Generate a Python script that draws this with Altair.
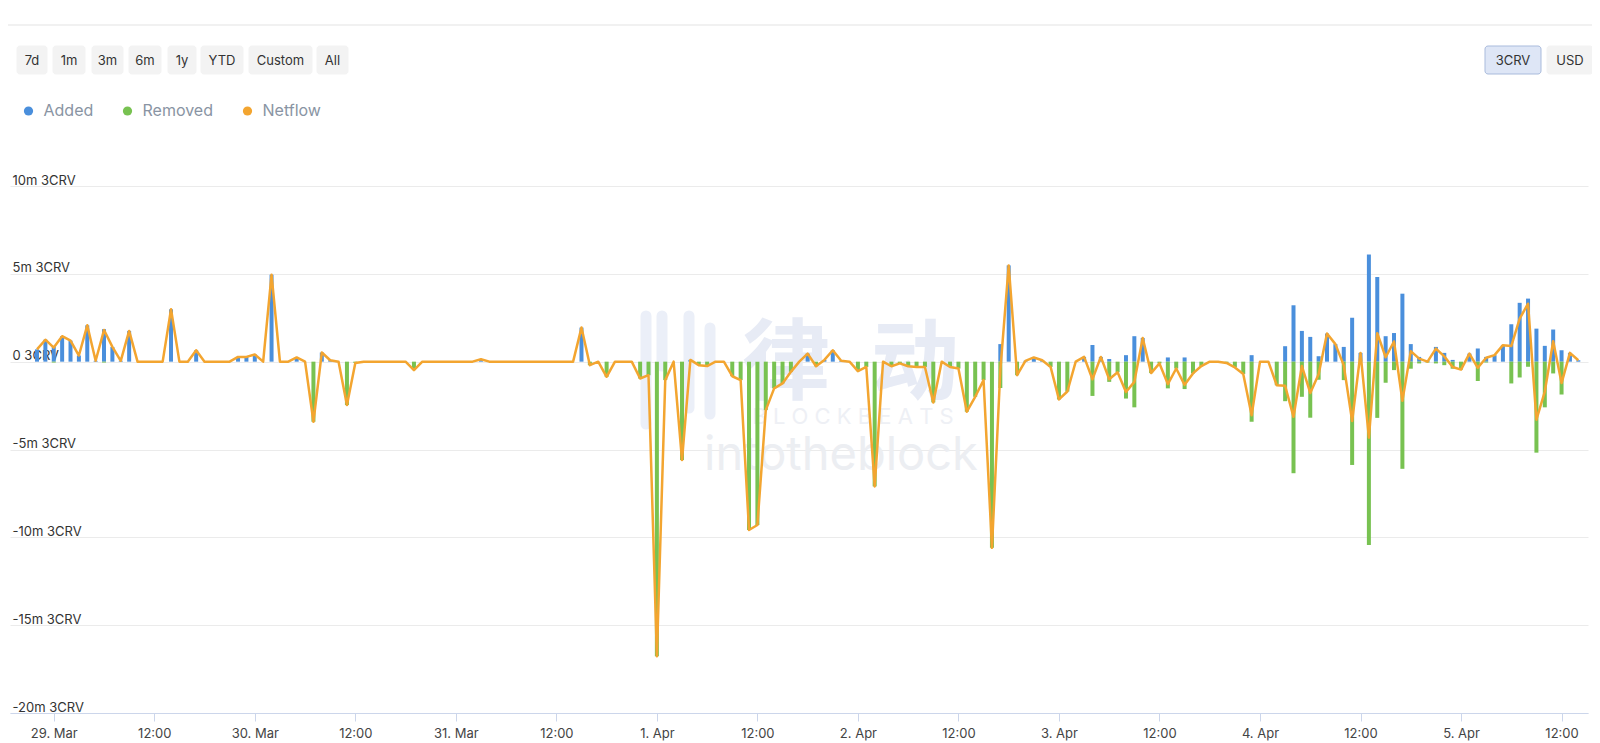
import datetime as dt
import altair as alt
import pandas as pd

# ---------------- data (millions of 3CRV, hourly, first point 28 Mar 22:00 UTC) -------------
START = dt.datetime(2023, 3, 28, 22, 0)
ADDED = [
    # 28 Mar 22h-23h
    0.7, 1.25,
    # 29 Mar 00h-23h
    0.85, 1.45, 1.2, 0.35, 2.07, 0.05, 1.85, 0.84, 0.05, 1.75, 0, 0,
    0, 0, 2.98, 0, 0, 0.65, 0, 0, 0, 0, 0.27, 0.27,
    # 30 Mar
    0.41, 0, 4.95, 0, 0, 0.24, 0, 0, 0.52, 0.08, 0, 0,
    0, 0, 0, 0, 0, 0, 0, 0, 0, 0, 0, 0,
    # 31 Mar
    0, 0, 0, 0.14, 0, 0, 0, 0, 0, 0, 0, 0,
    0, 0, 0, 1.94, 0, 0, 0, 0, 0, 0, 0, 0,
    # 1 Apr
    0, 0, 0, 0, 0.1, 0, 0, 0, 0, 0, 0, 0,
    0, 0, 0, 0, 0, 0, 0.46, 0, 0.1, 0.65, 0.05, 0,
    # 2 Apr
    0, 0, 0, 0, 0, 0, 0, 0, 0, 0, 0, 0,
    0, 0, 0, 0, 0, 1.0, 5.48, 0, 0.05, 0.24, 0.08, 0,
    # 3 Apr
    0, 0, 0, 0.27, 0.95, 0.27, 0.15, 0, 0.37, 1.45, 1.35, 0,
    0, 0.24, 0, 0.24, 0, 0, 0, 0, 0, 0, 0, 0.37,
    # 4 Apr
    0, 0, 0, 0.88, 3.21, 1.75, 1.41, 0.31, 1.6, 1.0, 0.84, 2.5,
    0.5, 6.1, 4.82, 1.45, 1.63, 3.87, 1.0, 0.27, 0.05, 0.84, 0.5, 0.1,
    # 5 Apr 00h-14h
    0, 0.46, 0.75, 0.27, 0.37, 0.94, 2.13, 3.35, 3.59, 1.88, 0.9, 1.83,
    0.65, 0.5, 0.08,
]
REMOVED = [
    # 28 Mar 22h-23h
    0, 0,
    # 29 Mar
    -0.05, 0, 0, 0, 0, 0, -0.05, 0, 0, 0, 0, 0,
    0, 0, 0, 0, 0, 0, 0, 0, 0, 0, 0, 0,
    # 30 Mar
    0, 0, 0, 0, 0, 0, 0, -3.42, 0, 0, 0, -2.47,
    -0.07, 0, 0, 0, 0, 0, 0, -0.48, 0, 0, 0, 0,
    # 31 Mar
    0, 0, 0, 0, 0, 0, 0, 0, 0, 0, 0, 0,
    0, 0, 0, 0, -0.2, 0, -0.86, 0, 0, 0, -0.96, -0.77,
    # 1 Apr
    -16.77, -1.05, 0, -5.6, 0, -0.2, -0.25, 0, 0, -0.83, -1.05, -9.58,
    -9.3, -2.76, -1.52, -1.24, -0.58, 0, 0, -0.26, 0, 0, 0, 0,
    # 2 Apr
    -0.54, -0.3, -7.1, 0, -0.26, -0.1, -0.26, -0.3, -0.3, -2.32, 0, -0.3,
    -0.39, -2.85, -2.0, -1.05, -10.6, -1.5, 0, -0.77, 0, 0, 0, -0.3,
    # 3 Apr
    -2.15, -1.7, 0, 0, -1.95, 0, -1.15, -0.6, -2.1, -2.6, 0, -0.65,
    -0.1, -1.52, -0.39, -1.56, -0.67, -0.25, 0, 0, -0.07, -0.33, -0.7, -3.42,
    # 4 Apr
    0, 0, -1.34, -2.25, -6.35, -2.0, -3.19, -1.03, 0, 0, -1.05, -5.88,
    0, -10.43, -3.2, -1.2, -0.48, -6.1, -0.4, -0.1, -0.05, -0.1, -0.2, -0.4,
    # 5 Apr
    -0.45, 0, -1.1, -0.05, 0, 0, -1.24, -0.9, -0.29, -5.18, -2.6, -0.67,
    -1.87, 0, 0,
]
SERIES = ["Added", "Removed", "Netflow"]
COLORS = ["#4a8fdc", "#78c251", "#f3a530"]
Y_TICKS = [-20, -15, -10, -5, 0, 5, 10]
RANGE_BUTTONS = ["7d", "1m", "3m", "6m", "1y", "YTD", "Custom", "All"]
UNIT_BUTTONS = ["3CRV", "USD"]

times = [(START + dt.timedelta(hours=i)).strftime("%Y-%m-%dT%H:%M:%SZ") for i in range(len(ADDED))]

bar_rows = []
for t, a, r in zip(times, ADDED, REMOVED):
    bar_rows.append({"t": t, "s": "Added", "v": a})
    bar_rows.append({"t": t, "s": "Removed", "v": r})
bars_df = pd.DataFrame(bar_rows)
line_df = pd.DataFrame({"t": times, "net": [round(a + r, 3) for a, r in zip(ADDED, REMOVED)]})

# ---------------- layout constants ----------------
W, H = 1578, 527
FONT = "Inter"

def utc(d):
    return alt.DateTime(year=d.year, month=d.month, date=d.day, hours=d.hour,
                        minutes=d.minute, seconds=d.second, utc=True)

x_ticks = [utc(dt.datetime(2023, 3, 29) + dt.timedelta(hours=12 * k)) for k in range(16)]
x_scale = alt.Scale(type="utc", nice=False,
                    domain=[utc(dt.datetime(2023, 3, 28, 19, 22, 24)),
                            utc(dt.datetime(2023, 4, 5, 14, 33, 36))])
y_scale = alt.Scale(domain=[-20, 10], nice=False, zero=False)

x_axis = alt.Axis(values=x_ticks, title=None, grid=False,
                  labelExpr="utcFormat(datum.value, '%H') == '00' ? utcFormat(datum.value, '%-d. %b') : utcFormat(datum.value, '%H:%M')",
                  tickSize=8, tickColor="#ccd6eb", domainColor="#ccd6eb",
                  labelColor="#444444", labelFont=FONT, labelFontSize=13,
                  labelPadding=6, labelOverlap=False, labelFlush=False)
y_axis = alt.Axis(values=Y_TICKS, title=None, grid=True, gridColor="#ebebeb",
                  domain=False, ticks=False, tickSize=0,
                  labelAlign="left", labelBaseline="alphabetic", labelPadding=-2,
                  labelOffset=-2, labelColor="#333333", labelFont=FONT, labelFontSize=13,
                  labelExpr="datum.value == 0 ? '0 3CRV' : datum.value + 'm 3CRV'")

legend = alt.Legend(orient="none", legendX=10.5, legendY=-83, direction="horizontal",
                    title=None, symbolType="circle", symbolSize=85, symbolStrokeWidth=0,
                    labelFont=FONT, labelFontSize=16, labelColor="#8994a3",
                    labelOffset=7, columnPadding=26)

# ---------------- watermark ----------------
one = pd.DataFrame({"k": [0]})
wm_bars = alt.Chart(pd.DataFrame({
    "xb": [636, 652, 679, 700],
    "y0": [130, 130, 130, 142],
    "y1": [238, 180, 222, 228],
})).mark_rule(color="#ebeff8", strokeWidth=11, strokeCap="round").encode(
    x=alt.X("xb:Q", scale=None, axis=None),
    y=alt.Y("y0:Q", scale=None, axis=None), y2="y1:Q")
wm_cjk = alt.Chart(pd.DataFrame({"ch": ["律", "动"], "xc": [776, 905]})).mark_text(
    font="Noto Sans CJK SC", fontWeight="bold", fontSize=88, color="#e7ebf5",
    align="center", baseline="middle").encode(
    x=alt.X("xc:Q", scale=None, axis=None), y=alt.value(180), text="ch:N")
wm2 = alt.Chart(one).mark_text(text="B L O C K B E A T S", font=FONT, fontSize=22,
                               color="#eef0f5", align="center", baseline="middle").encode(
    x=alt.value(843), y=alt.value(231))
wm3 = alt.Chart(one).mark_text(text="intotheblock", font=FONT, fontSize=47,
                               color="#eceef2", align="center", baseline="alphabetic").encode(
    x=alt.value(831), y=alt.value(284))

# ---------------- data layers ----------------
bars = alt.Chart(bars_df).mark_bar(size=4).encode(
    x=alt.X("t:T", scale=x_scale, axis=x_axis),
    y=alt.Y("v:Q", scale=y_scale, axis=y_axis, stack=None),
    color=alt.Color("s:N", scale=alt.Scale(domain=SERIES, range=COLORS), legend=legend),
)
line = alt.Chart(line_df).mark_line(color=COLORS[2], strokeWidth=2.5, strokeJoin="round").encode(
    x=alt.X("t:T", scale=x_scale, axis=x_axis),
    y=alt.Y("net:Q", scale=y_scale, axis=y_axis),
)

# ---------------- header controls ----------------
btn_df = pd.DataFrame({
    "label": RANGE_BUTTONS + UNIT_BUTTONS,
    "x0": [7, 43, 82, 119, 158, 191, 239, 307, 1475, 1537],
    "x1": [37, 75, 113, 151, 186, 233, 302, 338, 1531, 1583],
    "fill": ["#f3f3f3"] * 8 + ["#dee6f6", "#f3f3f3"],
    "stroke": ["#f3f3f3"] * 8 + ["#a9bbdc", "#f3f3f3"],
})
btn_df["xc"] = (btn_df["x0"] + btn_df["x1"]) / 2
btn_rects = alt.Chart(btn_df).mark_rect(cornerRadius=3, strokeWidth=1).encode(
    x=alt.X("x0:Q", scale=None, axis=None), x2="x1:Q",
    y=alt.value(-140), y2=alt.value(-112),
    fill=alt.Fill("fill:N", scale=None, legend=None),
    stroke=alt.Stroke("stroke:N", scale=None, legend=None),
)
btn_text = alt.Chart(btn_df).mark_text(font=FONT, fontSize=13, color="#333333",
                                       baseline="middle", align="center").encode(
    x=alt.X("xc:Q", scale=None, axis=None), y=alt.value(-125.5), text="label:N")
sep = alt.Chart(one).mark_rule(color="#e3e3e3", strokeWidth=1).encode(
    x=alt.value(-10), x2=alt.value(1600), y=alt.value(-161))

chart = alt.layer(sep, btn_rects, btn_text, wm_bars, wm_cjk, wm2, wm3, bars, line).properties(
    width=W, height=H,
    padding={"left": 2, "top": 178, "right": 4, "bottom": 30},
    autosize=alt.AutoSizeParams(type="none"),
    background="white",
).configure_view(stroke=None)

chart.save("out.html", embed_options={"renderer": "svg", "actions": False})
